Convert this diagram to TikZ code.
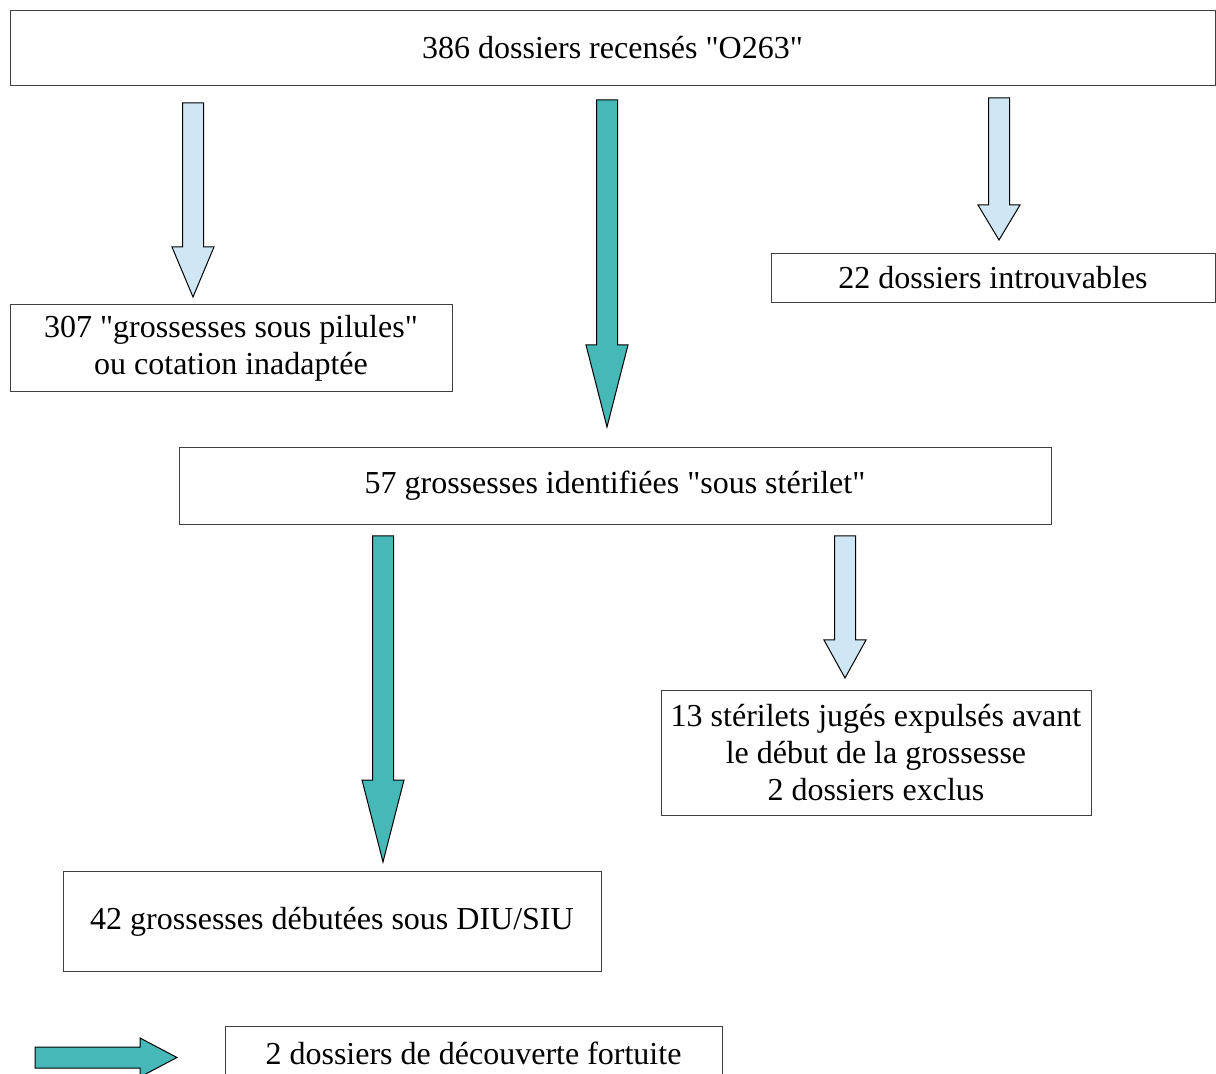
\documentclass[tikz,border=0pt]{standalone}
\usepackage{fontspec}
\setmainfont{Liberation Serif}[Ligatures=TeXOff]
\usepackage{tikz}

\definecolor{bleuclair}{HTML}{CFE7F5}
\definecolor{turquoise}{HTML}{47B8B8}

\tikzset{
  boite/.style={draw=black!75, line width=0.5pt, align=center, inner sep=0pt,
                font=\fontsize{16}{18.5}\selectfont},
  clair/.style={draw=black, line width=0.5pt, fill=bleuclair},
  fonce/.style={draw=black, line width=0.5pt, fill=turquoise}
}

% fleche vers le bas : style, x, haut, debut pointe, pointe
\newcommand{\flechebas}[5]{%
  \draw[#1] (#2-10.5,#3) -- (#2+10.5,#3) -- (#2+10.5,#4) -- (#2+21,#4)
    -- (#2,#5) -- (#2-21,#4) -- (#2-10.5,#4) -- cycle;}

\begin{document}
\begin{tikzpicture}[x=0.5pt, y=-0.5pt]
            \useasboundingbox[fill=white] (0,0) rectangle (1216,1074);
            % boites
            \node[boite, minimum width=602.5pt, minimum height=37.5pt] (recenses) at (612.5,48) {386 dossiers recensés "O263"};
            \node[boite, minimum width=221pt, minimum height=43.5pt] (pilules) at (231,348) {307 "grossesses sous pilules"\\ou cotation inadaptée};
            \node[boite, minimum width=222pt, minimum height=24.5pt] (introuvables) at (993,278) {22 dossiers introuvables};
            \node[boite, minimum width=436pt, minimum height=38.5pt] (sterilet) at (615,486) {57 grossesses identifiées "sous stérilet"};
            \node[boite, minimum width=215pt, minimum height=62.5pt] (expulses) at (876,753) {13 stérilets jugés expulsés avant\\le début de la grossesse\\2 dossiers exclus};
            \node[boite, minimum width=269pt, minimum height=50pt] (debutees) at (332,921.5) {42 grossesses débutées sous DIU/SIU};
            \node[boite, minimum width=248.5pt, minimum height=27pt] (fortuite) at (473.5,1053) {2 dossiers de découverte fortuite};
            % fleches
            \flechebas{clair}{193}{103}{247}{297}
            \flechebas{fonce}{607}{100}{345}{427}
            \flechebas{clair}{999}{98}{205}{240}
            \flechebas{fonce}{383}{536}{780}{862}
            \flechebas{clair}{845}{536}{640}{678}
            % legende
            \draw[fonce] (35,1047) -- (140,1047) -- (140,1038) -- (177,1057.5)
              -- (140,1077) -- (140,1068) -- (35,1068) -- cycle;
        \end{tikzpicture}
\end{document}
